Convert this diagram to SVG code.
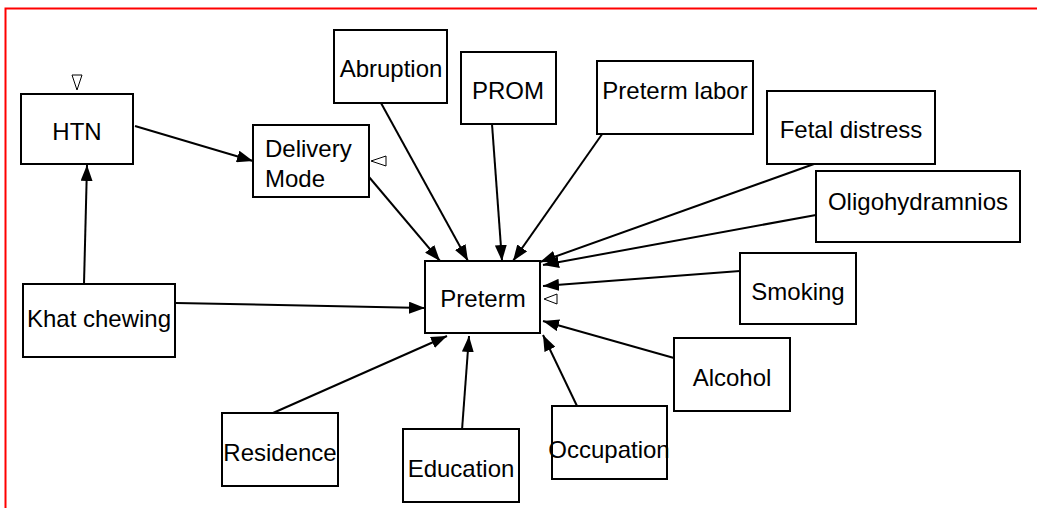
<svg xmlns="http://www.w3.org/2000/svg" width="1037" height="508" viewBox="0 0 1037 508">
<style>
.box{fill:#fff;stroke:#000;stroke-width:2}
.lbl{font-family:"Liberation Sans",Arial,sans-serif;font-size:24px;fill:#000}
.c{text-anchor:middle}
.edge{stroke:#000;stroke-width:2;fill:none;marker-end:url(#arr)}
.tri{fill:#fff;stroke:#000;stroke-width:1}
</style>
<defs>
<marker id="arr" viewBox="0 0 16 12" refX="16" refY="6" markerWidth="16" markerHeight="12" markerUnits="userSpaceOnUse" orient="auto">
<path d="M0,0 L16,6 L0,12 z" fill="#000"/>
</marker>
</defs>
<rect width="1037" height="508" fill="#fff"/>
<path d="M5.5,508 V8.5 H1037" fill="none" stroke="#f00" stroke-width="2"/>
<g id="connectors">
<line class="edge" x1="84" y1="284" x2="87" y2="165"/>
<line class="edge" x1="135" y1="126" x2="253" y2="161"/>
<line class="edge" x1="369" y1="177" x2="440" y2="261"/>
<line class="edge" x1="381" y1="103" x2="468" y2="261"/>
<line class="edge" x1="492" y1="124" x2="502" y2="261"/>
<line class="edge" x1="605" y1="130" x2="513" y2="261"/>
<line class="edge" x1="814" y1="164" x2="540" y2="262"/>
<line class="edge" x1="816" y1="215" x2="543" y2="265"/>
<line class="edge" x1="740" y1="271" x2="543" y2="286"/>
<line class="edge" x1="674" y1="358" x2="543" y2="321"/>
<line class="edge" x1="577" y1="406" x2="543" y2="335"/>
<line class="edge" x1="462" y1="430" x2="469" y2="336"/>
<line class="edge" x1="273" y1="413" x2="447" y2="336"/>
<line class="edge" x1="176" y1="303" x2="425" y2="308"/>
</g>
<g id="HTN"><rect class="box" x="21" y="94" width="112" height="70"/><text class="lbl c" x="77" y="140">HTN</text><polygon class="tri" points="72,75 82,75 77,90"/></g>
<g id="DeliveryMode"><rect class="box" x="253" y="125" width="116" height="72"/><text class="lbl" x="265" y="157">Delivery</text><text class="lbl" x="265" y="187">Mode</text><polygon class="tri" points="371,161 386,156 386,166"/></g>
<g id="Abruption"><rect class="box" x="334" y="30" width="113" height="73"/><text class="lbl c" x="391" y="77">Abruption</text></g>
<g id="PROM"><rect class="box" x="461" y="52" width="95" height="72"/><text class="lbl c" x="508" y="99">PROM</text></g>
<g id="PretermLabor"><rect class="box" x="597" y="61" width="156" height="73"/><text class="lbl c" x="675" y="99">Preterm labor</text></g>
<g id="FetalDistress"><rect class="box" x="767" y="91" width="168" height="73"/><text class="lbl c" x="851" y="138">Fetal distress</text></g>
<g id="Oligohydramnios"><rect class="box" x="816" y="171" width="204" height="71"/><text class="lbl c" x="918" y="210">Oligohydramnios</text></g>
<g id="Smoking"><rect class="box" x="740" y="253" width="116" height="71"/><text class="lbl c" x="798" y="300">Smoking</text></g>
<g id="Preterm"><rect class="box" x="425" y="261" width="115" height="72"/><text class="lbl c" x="483" y="307">Preterm</text><polygon class="tri" points="544,299 557,294 557,304"/></g>
<g id="KhatChewing"><rect class="box" x="23" y="284" width="152" height="73"/><text class="lbl c" x="99" y="327">Khat chewing</text></g>
<g id="Alcohol"><rect class="box" x="674" y="338" width="116" height="73"/><text class="lbl c" x="732" y="386">Alcohol</text></g>
<g id="Residence"><rect class="box" x="222" y="413" width="116" height="73"/><text class="lbl c" x="280" y="461">Residence</text></g>
<g id="Education"><rect class="box" x="403" y="429" width="116" height="73"/><text class="lbl c" x="461" y="477">Education</text></g>
<g id="Occupation"><rect class="box" x="552" y="406" width="115" height="73"/><text class="lbl c" x="609" y="458">Occupation</text></g>
</svg>
